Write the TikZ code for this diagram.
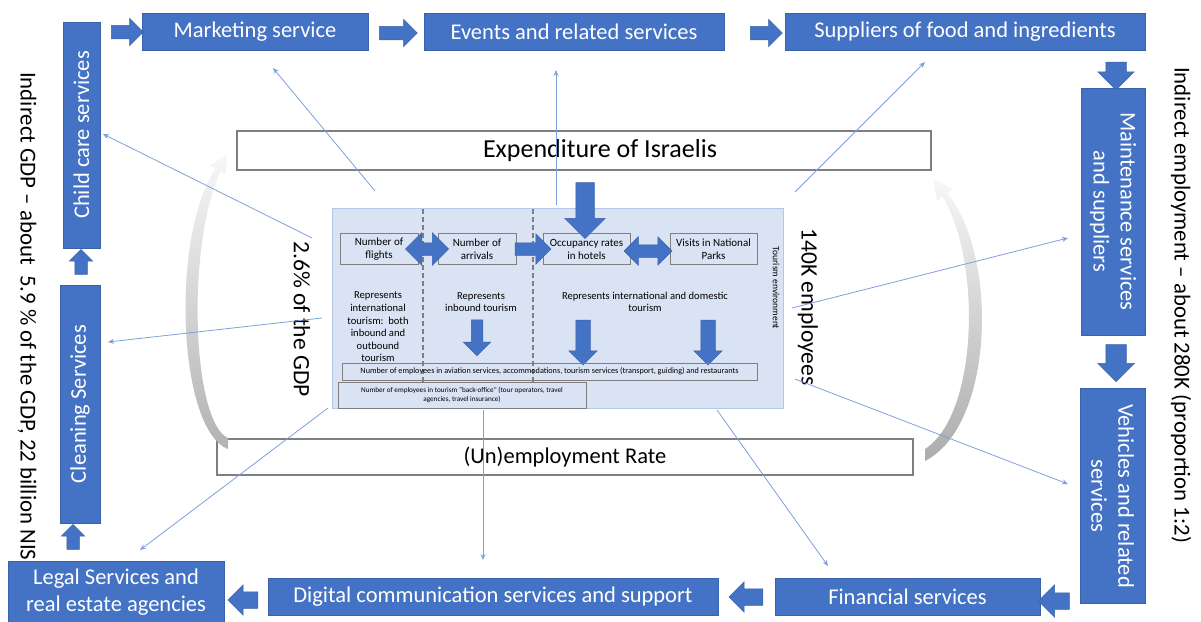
\documentclass[tikz,border=0pt]{standalone}
\usepackage{fontspec}
\setmainfont{Carlito}
\usetikzlibrary{shapes.arrows, arrows.meta}
\definecolor{myblue}{HTML}{4472C4}
\definecolor{myborder}{HTML}{3A62AA}
\definecolor{envfill}{HTML}{DAE3F3}
\definecolor{envborder}{HTML}{B4C7E7}
\definecolor{thinblue}{HTML}{7F9FDB}
\definecolor{boxgray}{HTML}{7F7F7F}
\tikzset{
  bluebox/.style={fill=myblue, draw=myborder, line width=0.5pt, text=white, font=\fontsize{22.5}{27}\selectfont, inner sep=2pt, align=center},
  whitebox/.style={fill=white, draw=boxgray, line width=1.2pt, font=\fontsize{22.5}{27}\selectfont},
  smallbox/.style={draw=boxgray, line width=0.8pt, font=\fontsize{11}{13}\selectfont, align=center, inner sep=1pt},
  tinybox/.style={draw=boxgray, line width=0.8pt, font=\fontsize{7.2}{9}\selectfont, align=center, inner sep=1pt},
  smalltext/.style={font=\fontsize{10.6}{12.6}\selectfont, align=center, inner sep=0pt},
  bigtext/.style={font=\fontsize{23.5}{28}\selectfont, text=black, inner sep=0pt},
  blockarrow/.style n args={3}{single arrow, fill=myblue, draw=myborder, line width=0.5pt, inner xsep=0pt, inner ysep=#2, single arrow head extend=#3, minimum height=#1, minimum width=0pt},
  dblockarrow/.style n args={3}{double arrow, fill=myblue, draw=myborder, line width=0.5pt, inner xsep=0pt, inner ysep=#2, double arrow head extend=#3, minimum height=#1, minimum width=0pt},
  thinarrow/.style={draw=thinblue, line width=0.8pt, -{Stealth[length=6pt,width=5pt]}},
  dashline/.style={draw=boxgray, line width=1.8pt, dash pattern=on 5pt off 3pt},
}
\begin{document}
\begin{tikzpicture}[x=1pt,y=-1pt]
\useasboundingbox (0,0) rectangle (1201,621);

% outer text
\node[bigtext, font=\fontsize{22.8}{27}\selectfont, rotate=-90, anchor=west] (indgdp) at (27,72) {Indirect GDP – about\ \ 5.9 \% of the GDP, 22 billion NIS};
\node[bigtext, font=\fontsize{22.8}{27}\selectfont, rotate=-90, anchor=west] (indemp) at (1181,67) {Indirect employment – about 280K (proportion 1:2)};

% blue boxes
\node[bluebox, rotate=90, minimum width=226, minimum height=37] (child) at (81.5,135) {Child care services};
\node[bluebox, minimum width=226, minimum height=37] (mkt) at (255,31.5) {Marketing service};
\node[bluebox, minimum width=300, minimum height=37] (events) at (574,31.5) {Events and related services};
\node[bluebox, minimum width=360, minimum height=37] (supp) at (965,31.5) {Suppliers of food and ingredients};
\node[bluebox, rotate=-90, minimum width=247, minimum height=64] (maint) at (1113,211.5) {Maintenance services\\and suppliers};
\node[bluebox, rotate=-90, minimum width=215, minimum height=65] (veh) at (1112.5,496) {Vehicles and related\\services};
\node[bluebox, minimum width=265, minimum height=37] (fin) at (907.5,596.5) {Financial services};
\node[bluebox, minimum width=450, minimum height=37] (digital) at (493,596.5) {Digital communication services and support};
\node[bluebox, minimum width=216, minimum height=62] (legal) at (116,592) {Legal Services and\\real estate agencies};
\node[bluebox, rotate=90, minimum width=238, minimum height=40] (clean) at (80,404) {Cleaning Services};

% block arrows of the cycle
\node[blockarrow={32}{6.5}{7}] (a1) at (124,32) {};
\node[blockarrow={38}{6.5}{7}] (a2) at (395,33) {};
\node[blockarrow={32}{6.5}{7}] (a3) at (763,33) {};
\node[blockarrow={28}{10}{8}, rotate=-90] (a4) at (1116,71) {};
\node[blockarrow={37}{10}{8}, rotate=-90] (a5) at (1116,358) {};
\node[blockarrow={31}{8}{8}, rotate=180] (a6) at (1058,601) {};
\node[blockarrow={34}{8}{7}, rotate=180] (a7) at (750,597) {};
\node[blockarrow={30}{8}{7}, rotate=180] (a8) at (247,600) {};
\node[blockarrow={25}{6}{5.5}, rotate=90] (a9) at (73,540) {};
\node[blockarrow={25}{6}{5.5}, rotate=90] (a10) at (81,265) {};

% white boxes
\node[whitebox, minimum width=694, minimum height=39] (exp) at (584,150.5) {};
\node[font=\fontsize{26}{30}\selectfont, inner sep=0pt] (explabel) at (600,150.5) {Expenditure of Israelis};
\node[whitebox, minimum width=696, minimum height=36] (unemp) at (565,457) {(Un)employment Rate};

% gray curved arrows
\shade[top color=gray!6, bottom color=gray!60]
  (228,449) .. controls (178,430) and (170,238) .. (215.4,168.5)
  -- (210.2,165.6) -- (226.8,154.3) -- (225.8,174.4) -- (220.6,171.5)
  .. controls (186,245) and (192,422) .. (228,438) -- cycle;
\shade[top color=gray!6, bottom color=gray!65]
  (925,461) .. controls (995,425) and (998,255) .. (947.5,193.3)
  -- (953.2,189.3) -- (933.6,178.6) -- (936.8,200.7) -- (942.5,196.7)
  .. controls (982,262) and (978,415) .. (925,449) -- cycle;

% tourism environment
\node[draw=envborder, fill=envfill, line width=0.8pt, minimum width=451, minimum height=200, inner sep=0pt] (env) at (557.5,308) {};
\draw[dashline] (423,209) -- (423,407);
\draw[dashline] (533,209) -- (533,407);

\node[smallbox, minimum width=78, minimum height=31] (flights) at (379,249) {Number of\\flights};
\node[smallbox, minimum width=78, minimum height=31] (arrivals) at (477,249) {Number of\\arrivals};
\node[smallbox, minimum width=87, minimum height=31] (occ) at (586.5,249) {Occupancy rates\\in hotels};
\node[smallbox, minimum width=87, minimum height=31] (visits) at (713.5,249) {Visits in National\\Parks};

\node[dblockarrow={43}{6}{10}] (b1) at (427,249) {};
\node[blockarrow={36}{6}{9}] (b2) at (530,249) {};
\node[dblockarrow={48}{6}{8}] (b3) at (648,251) {};
\node[blockarrow={56}{9}{11}, rotate=-90] (b4) at (585,206) {};

\node[smalltext] (rep1) at (378,327) {Represents\\international\\tourism:\ \ both\\inbound and\\outbound\\tourism};
\node[smalltext] (rep2) at (481,302) {Represents\\inbound tourism};
\node[smalltext] (rep3) at (645,302) {Represents international and domestic\\tourism};
\node[rotate=-90, font=\fontsize{9.5}{11}\selectfont, inner sep=0pt] (tenv) at (776,288) {Tourism environment};

\node[blockarrow={36}{5.5}{8}, rotate=-90] (c1) at (477,335) {};
\node[blockarrow={45}{7}{7}, rotate=-90] (c2) at (583,339) {};
\node[blockarrow={45}{7}{7}, rotate=-90] (c3) at (708,339) {};

\node[tinybox, font=\fontsize{8.2}{9}\selectfont, minimum width=415, minimum height=17] (empl) at (549.5,371.5) {Number of employees in aviation services, accommodations, tourism services (transport, guiding) and restaurants};
\node[tinybox, fill=envfill, minimum width=248, minimum height=26] (back) at (462,395) {Number of employees in tourism "back-office" (tour operators, travel\\agencies, travel insurance)};

\node[bigtext, rotate=-90] (gdp) at (302,319) {2.6\% of the GDP};
\node[bigtext, rotate=-90] (emp) at (808,307) {140K employees};

% thin connectors
\coordinate (t1) at (375,191);  \coordinate (h1) at (273,68);
\coordinate (t2) at (556,205);  \coordinate (h2) at (556,70);
\coordinate (t3) at (795,192);  \coordinate (h3) at (925,62);
\coordinate (t4) at (312,238);  \coordinate (h4) at (103,134);
\coordinate (t5) at (322,318);  \coordinate (h5) at (108,342);
\coordinate (t6) at (328,408);  \coordinate (h6) at (140,550);
\coordinate (t7) at (483,410);  \coordinate (h7) at (483,560);
\coordinate (t8) at (717,410);  \coordinate (h8) at (828,566);
\coordinate (t9) at (795,379);  \coordinate (h9) at (1068,484);
\coordinate (t10) at (792,308); \coordinate (h10) at (1068,238);
\foreach \i in {1,...,10} { \draw[thinarrow] (t\i) -- (h\i); }
\end{tikzpicture}
\end{document}
